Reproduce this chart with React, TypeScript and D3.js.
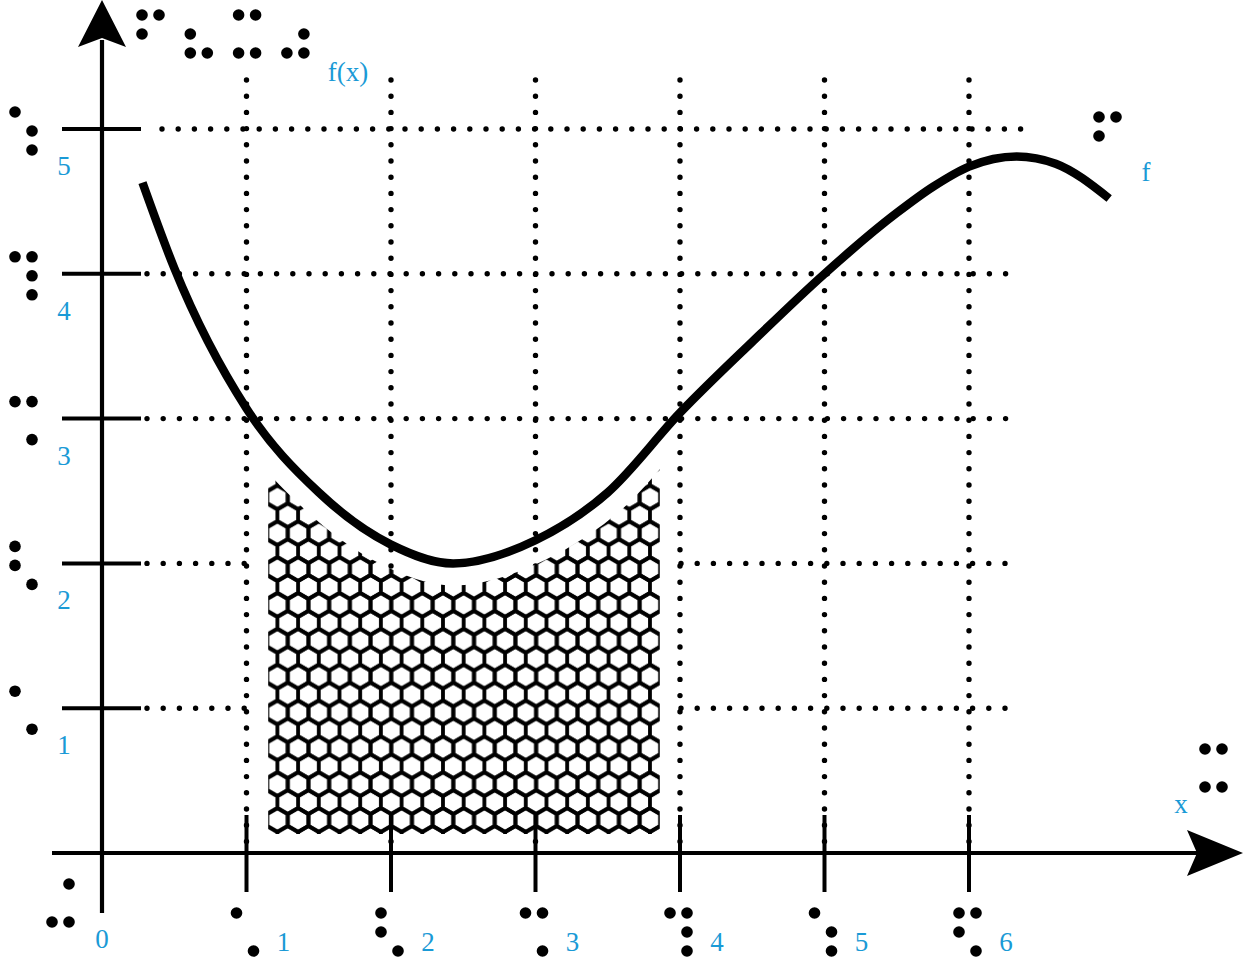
import React from "react";
import * as d3 from "d3";

// ---- data ----
const curveX = [0.28, 0.5, 1.0, 1.5, 2.0, 2.43, 3.0, 3.5, 4.0, 4.5, 5.0, 5.5, 5.75, 6.0, 6.33, 6.6, 6.97];
const curveY = [4.63, 4.04, 3.07, 2.49, 2.13, 2.0, 2.16, 2.49, 3.04, 3.53, 4.0, 4.42, 4.6, 4.74, 4.81, 4.76, 4.52];
const xTicks = [1, 2, 3, 4, 5, 6];
const yTicks = [1, 2, 3, 4, 5];
const xTickLabels = ["1", "2", "3", "4", "5", "6"];
const yTickLabels = ["1", "2", "3", "4", "5"];
const shadeRange = [1.15, 3.86]; // x-interval of the hatched integral region
const shadeBottom = 0.131;
// braille cells (dot numbers 1-6)
const brailleDigits: Record<string, number[]> = {
  "0": [4, 3, 6],
  "1": [1, 6],
  "2": [1, 2, 6],
  "3": [1, 4, 6],
  "4": [1, 4, 5, 6],
  "5": [1, 5, 6],
  "6": [1, 4, 2, 6],
};
const brailleTitle = [[1, 4, 2], [2, 3, 6], [1, 4, 3, 6], [5, 3, 6]]; // f ( x )
const brailleF = [1, 4, 2];
const brailleXLabel = [1, 4, 3, 6];

const W = 1251;
const H = 960;
const BLUE = "#1a9ad6";
const FONT = "'Liberation Serif', serif";

const x = d3.scaleLinear().domain([0, 6]).range([102, 969]);
const y = d3.scaleLinear().domain([0, 5]).range([853, 129]);

const DOT_R = 5.8;
const CELL_DX = 17;
const CELL_DY = 19;

function Cell({ dots, cx, cy }: { dots: number[]; cx: number; cy: number }) {
  const pos = (d: number): [number, number] => {
    const col = d <= 3 ? 0 : 1;
    const row = (d - 1) % 3;
    return [cx + col * CELL_DX, cy + row * CELL_DY];
  };
  return (
    <g>
      {dots.map((d) => {
        const [px, py] = pos(d);
        return <circle key={d} cx={px} cy={py} r={DOT_R} fill="#000" />;
      })}
    </g>
  );
}

function hexPath(cx: number, cy: number, r: number) {
  const pts: string[] = [];
  for (let i = 0; i < 6; i++) {
    const a = (Math.PI / 3) * i - Math.PI / 2;
    pts.push(`${cx + r * Math.cos(a)},${cy + r * Math.sin(a)}`);
  }
  return "M" + pts.join("L") + "Z";
}

export default function App() {
  const pts: [number, number][] = curveX.map((v, i) => [v, curveY[i]]);
  const curve = d3.curveMonotoneX;
  const line = d3
    .line<[number, number]>()
    .x((d) => x(d[0]))
    .y((d) => y(d[1]))
    .curve(curve);
  const area = d3
    .area<[number, number]>()
    .x((d) => x(d[0]))
    .y0(y(shadeBottom))
    .y1((d) => y(d[1]))
    .curve(curve);

  const hr = 11.95;
  const hw = Math.sqrt(3) * hr;
  const tileH = 3 * hr;
  const hexCenters: [number, number][] = [
    [0, 0],
    [hw, 0],
    [hw / 2, 1.5 * hr],
    [0, tileH],
    [hw, tileH],
  ];

  const step = 16.2;
  const dotStyle = {
    stroke: "#000",
    strokeWidth: 5.4,
    strokeLinecap: "round" as const,
    strokeDasharray: `0 ${step}`,
    fill: "none",
  };

  // horizontal dotted grid segments per y tick
  const hSegments: { v: number; x0: number; x1: number }[] = [];
  yTicks.forEach((v) => {
    if (v === 5) hSegments.push({ v, x0: 162, x1: 1026 });
    else if (v >= 3) hSegments.push({ v, x0: 147, x1: 1021 });
    else {
      hSegments.push({ v, x0: 147, x1: 246 });
      hSegments.push({ v, x0: 681, x1: 1009 });
    }
  });

  const sx0 = x(shadeRange[0]);
  const sx1 = x(shadeRange[1]);
  const sy1 = y(shadeBottom);

  const axisW = 4.2;
  const axisY = y(0);
  const axisX = x(0);
  const linePath = line(pts) || "";

  return (
    <svg
      width={W}
      height={H}
      style={{ position: "absolute", left: 0, top: 0, background: "#fff" }}
      xmlns="http://www.w3.org/2000/svg"
    >
      <defs>
        <pattern
          id="hex"
          patternUnits="userSpaceOnUse"
          x={277.4}
          y={820}
          width={hw}
          height={tileH}
        >
          {hexCenters.map(([cx, cy], i) => (
            <path key={i} d={hexPath(cx, cy, hr)} fill="none" stroke="#000" strokeWidth={3.8} />
          ))}
        </pattern>
        <mask id="shadeMask" maskUnits="userSpaceOnUse" x={0} y={0} width={W} height={H}>
          <rect x={0} y={0} width={W} height={H} fill="#000" />
          <path d={area(pts) || ""} fill="#fff" />
          <path d={linePath} fill="none" stroke="#000" strokeWidth={44} />
        </mask>
      </defs>

      {/* dotted grid */}
      {xTicks.map((v) => (
        <line key={"vx" + v} x1={x(v)} x2={x(v)} y1={80} y2={847} style={dotStyle} />
      ))}
      {hSegments.map((s, i) => (
        <line key={"hy" + i} x1={s.x0} x2={s.x1} y1={y(s.v)} y2={y(s.v)} style={dotStyle} />
      ))}

      {/* hatched region */}
      <g mask="url(#shadeMask)">
        <rect x={sx0} y={0} width={sx1 - sx0} height={sy1} fill="#fff" />
        <rect x={sx0} y={0} width={sx1 - sx0} height={sy1} fill="url(#hex)" />
      </g>

      {/* axes */}
      <line x1={52} x2={1200} y1={axisY} y2={axisY} stroke="#000" strokeWidth={axisW} />
      <line x1={axisX} x2={axisX} y1={913} y2={40} stroke="#000" strokeWidth={axisW} />
      <path
        d={`M${axisX},0 L${axisX + 24},47 L${axisX},38 L${axisX - 24},47 Z`}
        fill="#000"
      />
      <path
        d={`M1243,${axisY} L1187,${axisY - 23} L1197,${axisY} L1187,${axisY + 23} Z`}
        fill="#000"
      />
      {xTicks.map((v) => (
        <line key={"tx" + v} x1={x(v)} x2={x(v)} y1={815} y2={892} stroke="#000" strokeWidth={4} />
      ))}
      {yTicks.map((v) => (
        <line key={"ty" + v} x1={62} x2={141} y1={y(v)} y2={y(v)} stroke="#000" strokeWidth={4} />
      ))}

      {/* curve */}
      <path d={linePath} fill="none" stroke="#000" strokeWidth={8.5} />

      {/* braille */}
      {brailleTitle.map((c, i) => (
        <Cell key={"t" + i} dots={c} cx={142 + i * 48.3} cy={15} />
      ))}
      <Cell dots={brailleF} cx={1099} cy={117} />
      <Cell dots={brailleXLabel} cx={1205} cy={749} />
      <Cell dots={brailleDigits["0"]} cx={52} cy={884} />
      {xTickLabels.map((t, i) => (
        <Cell key={"bx" + t} dots={brailleDigits[t]} cx={x(xTicks[i]) - 10} cy={913} />
      ))}
      {yTickLabels.map((t, i) => (
        <Cell key={"by" + t} dots={brailleDigits[t]} cx={15} cy={y(yTicks[i]) - 17} />
      ))}

      {/* labels */}
      <g fill={BLUE} fontFamily={FONT} fontSize={27}>
        <text x={axisX} y={948} textAnchor="middle">0</text>
        {xTickLabels.map((t, i) => (
          <text key={"lx" + t} x={x(xTicks[i]) + 37} y={951} textAnchor="middle">
            {t}
          </text>
        ))}
        {yTickLabels.map((t, i) => (
          <text key={"ly" + t} x={64} y={y(yTicks[i]) + 46} textAnchor="middle">
            {t}
          </text>
        ))}
        <text x={348} y={81} textAnchor="middle">f(x)</text>
        <text x={1146} y={181} textAnchor="middle">f</text>
        <text x={1181} y={813} textAnchor="middle">x</text>
      </g>
    </svg>
  );
}
